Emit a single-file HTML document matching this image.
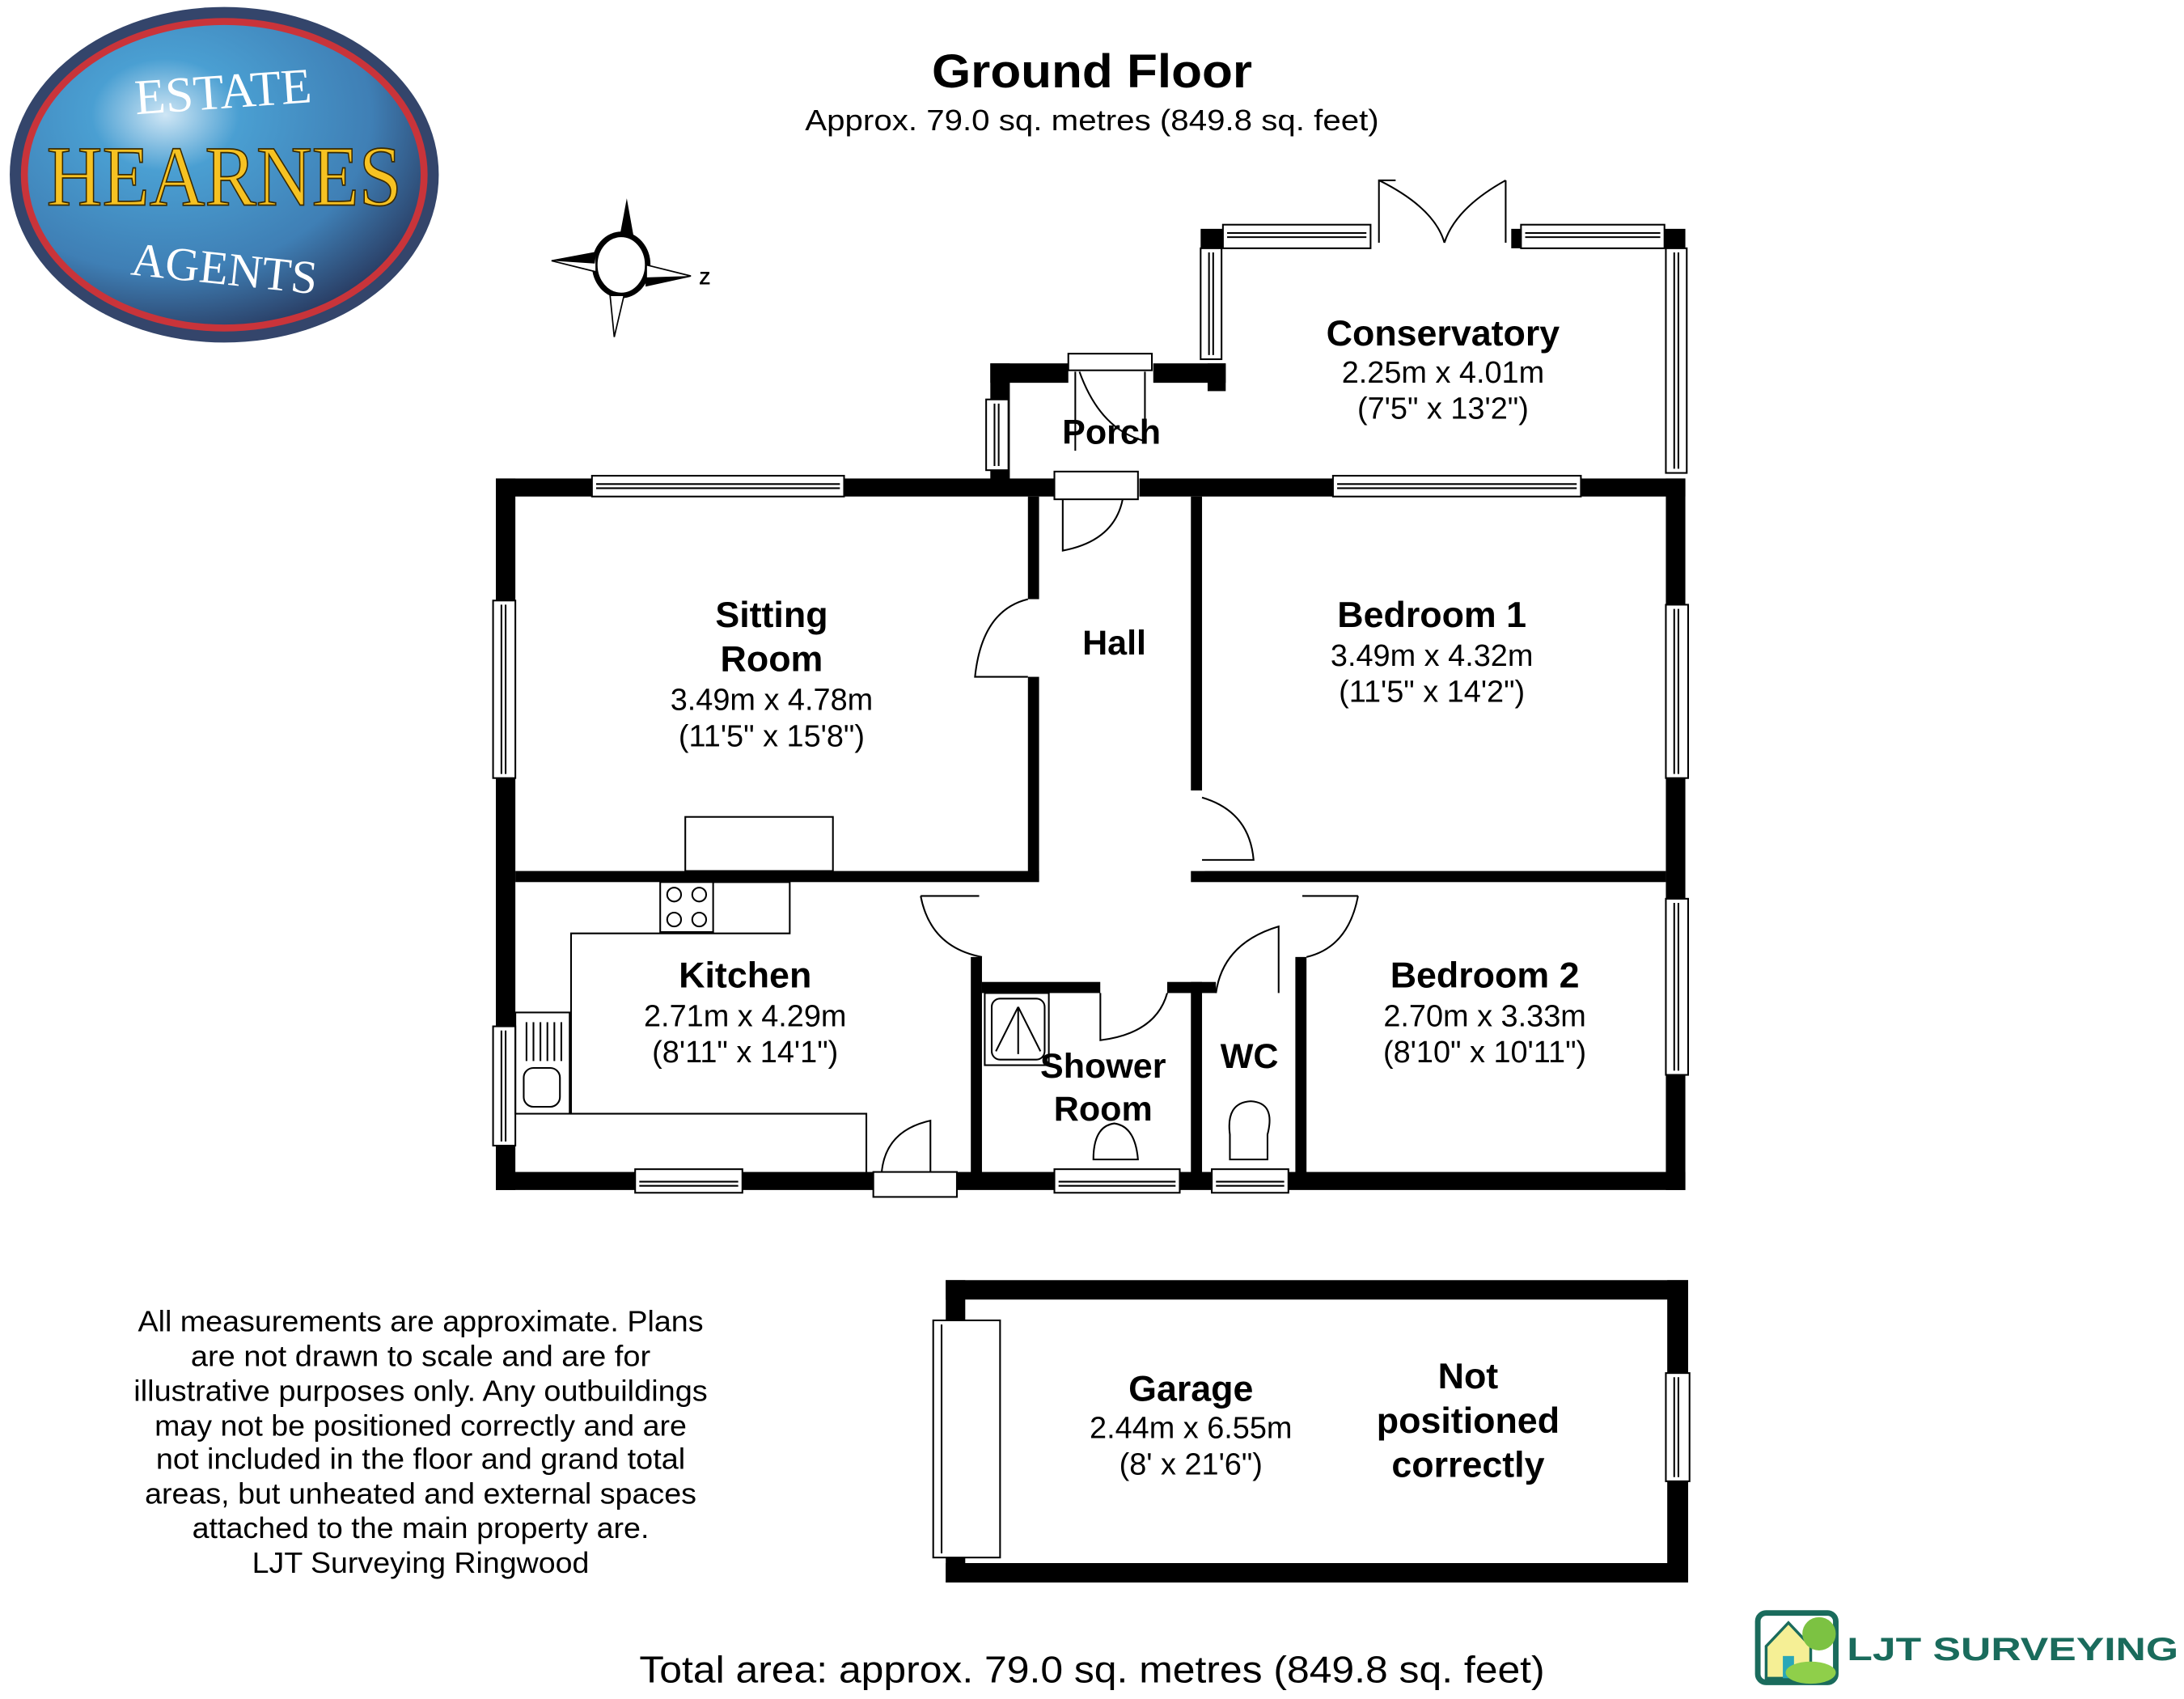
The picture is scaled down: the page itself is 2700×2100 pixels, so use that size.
<!DOCTYPE html>
<html><head><meta charset="utf-8"><style>
html,body{margin:0;padding:0;background:#fff;width:2700px;height:2100px;overflow:hidden}
svg{display:block}
text{font-family:"Liberation Sans Narrow","Liberation Sans",Arial,sans-serif;fill:#000}
.b{font-weight:bold}
.w{fill:#000}
.win{fill:#fff;stroke:#000;stroke-width:1.2}
.ln{fill:none;stroke:#000;stroke-width:1.2}
</style></head><body>
<svg width="2700" height="2100" viewBox="0 0 1568 1225" preserveAspectRatio="none" xmlns="http://www.w3.org/2000/svg">
<defs>
<radialGradient id="bg" cx="35%" cy="30%" r="75%">
<stop offset="0" stop-color="#cfe6f5"/><stop offset="0.25" stop-color="#4a9fd2"/><stop offset="0.7" stop-color="#3f7fb5"/><stop offset="1" stop-color="#2a3f66"/>
</radialGradient>
</defs>
<!-- Logo -->
<ellipse cx="161" cy="126" rx="154" ry="121" fill="#34456b"/>
<ellipse cx="161" cy="126" rx="146" ry="113" fill="#c9343a"/>
<ellipse cx="161" cy="126" rx="141" ry="108" fill="url(#bg)"/>
<text x="161" y="78" text-anchor="middle" style="font-family:'Liberation Serif',serif;font-size:36px;fill:#fff" transform="rotate(-4 161 78)">ESTATE</text>
<text x="161" y="148" text-anchor="middle" style="font-family:'Liberation Serif',serif;font-size:62px;fill:#f6c222;stroke:#3a2a00;stroke-width:1" textLength="255" lengthAdjust="spacingAndGlyphs">HEARNES</text>
<text x="161" y="205" text-anchor="middle" style="font-family:'Liberation Serif',serif;font-size:34px;fill:#fff" transform="rotate(6 161 195)">AGENTS</text>
<!-- compass -->
<ellipse cx="446" cy="191" rx="19" ry="22" fill="#fff" stroke="#000" stroke-width="4"/>
<polygon points="450,143 445,170 455,171" fill="#000"/>
<polygon points="441,243 438,213 448,213" fill="#fff" stroke="#000" stroke-width="1"/>
<polygon points="396,188 428,182 428,196" fill="#fff" stroke="#000" stroke-width="1"/>
<polygon points="396,188 428,182 427,190" fill="#000"/>
<polygon points="496,199 464,191 464,206" fill="#fff" stroke="#000" stroke-width="1"/>
<polygon points="496,199 464,200 464,206" fill="#000"/>
<text x="502" y="205" class="b" style="font-size:13px">Z</text>
<!-- titles -->
<text x="784" y="63" text-anchor="middle" class="b" style="font-family:'Liberation Sans',sans-serif;font-size:34px" textLength="230" lengthAdjust="spacingAndGlyphs">Ground Floor</text>
<text x="784" y="94" text-anchor="middle" style="font-family:'Liberation Sans',sans-serif;font-size:21px" textLength="412" lengthAdjust="spacingAndGlyphs">Approx.  79.0 sq. metres (849.8 sq. feet)</text>

<!-- MAIN WALLS -->
<rect class="w" x="356" y="345" width="854" height="13"/>
<rect class="w" x="356" y="345" width="14" height="513"/>
<rect class="w" x="1196" y="345" width="14" height="513"/>
<rect class="w" x="356" y="845" width="854" height="13"/>
<!-- porch -->
<rect class="w" x="711" y="262" width="169" height="14"/>
<rect class="w" x="711" y="262" width="14" height="90"/>
<rect class="w" x="867" y="262" width="13" height="20"/>
<!-- conservatory stubs -->
<rect class="w" x="862" y="165" width="16" height="14"/>
<rect class="w" x="1194" y="165" width="16" height="14"/>
<rect class="w" x="1085" y="165" width="10" height="14"/>
<!-- interior -->
<rect class="w" x="738" y="358" width="8" height="277"/>
<rect class="w" x="370" y="628" width="376" height="8"/>
<rect class="w" x="855" y="358" width="8" height="212"/>
<rect class="w" x="855" y="628" width="341" height="8"/>
<rect class="w" x="697" y="690" width="8" height="160"/>
<rect class="w" x="705" y="708" width="85" height="8"/>
<rect class="w" x="855" y="708" width="8" height="140"/>
<rect class="w" x="838" y="708" width="35" height="8"/>
<rect class="w" x="930" y="690" width="8" height="160"/>

<!-- door gaps (white) -->
<rect fill="#fff" x="757" y="343" width="61" height="17"/>
<rect fill="#fff" x="767" y="260" width="61" height="18"/>
<rect fill="#fff" x="736" y="432" width="12" height="56"/>
<rect fill="#fff" x="853" y="570" width="12" height="58"/>
<rect fill="#fff" x="790" y="706" width="48" height="12"/>
<rect fill="#fff" x="873" y="706" width="45" height="12"/>
<rect fill="#fff" x="627" y="843" width="60" height="17"/>
<rect fill="#fff" x="990" y="163" width="93" height="18"/>

<!-- windows -->
<g>
<rect class="win" x="425" y="343" width="181" height="15"/><line class="ln" x1="428" y1="349" x2="603" y2="349"/><line class="ln" x1="428" y1="352" x2="603" y2="352"/>
<rect class="win" x="957" y="343" width="178" height="15"/><line class="ln" x1="960" y1="349" x2="1132" y2="349"/><line class="ln" x1="960" y1="352" x2="1132" y2="352"/>
<rect class="win" x="878" y="162" width="106" height="17"/><line class="ln" x1="881" y1="168" x2="981" y2="168"/><line class="ln" x1="881" y1="171" x2="981" y2="171"/>
<rect class="win" x="1092" y="162" width="103" height="17"/><line class="ln" x1="1095" y1="168" x2="1192" y2="168"/><line class="ln" x1="1095" y1="171" x2="1192" y2="171"/>
<rect class="win" x="862" y="179" width="15" height="80"/><line class="ln" x1="868" y1="182" x2="868" y2="256"/><line class="ln" x1="871" y1="182" x2="871" y2="256"/>
<rect class="win" x="1196" y="179" width="15" height="162"/><line class="ln" x1="1202" y1="182" x2="1202" y2="338"/><line class="ln" x1="1205" y1="182" x2="1205" y2="338"/>
<rect class="win" x="708" y="288" width="16" height="51"/><line class="ln" x1="714" y1="291" x2="714" y2="336"/><line class="ln" x1="717" y1="291" x2="717" y2="336"/>
<rect class="win" x="354" y="433" width="16" height="128"/><line class="ln" x1="360" y1="436" x2="360" y2="558"/><line class="ln" x1="363" y1="436" x2="363" y2="558"/>
<rect class="win" x="354" y="740" width="16" height="86"/><line class="ln" x1="360" y1="743" x2="360" y2="823"/><line class="ln" x1="363" y1="743" x2="363" y2="823"/>
<rect class="win" x="1196" y="436" width="16" height="125"/><line class="ln" x1="1202" y1="439" x2="1202" y2="558"/><line class="ln" x1="1205" y1="439" x2="1205" y2="558"/>
<rect class="win" x="1196" y="648" width="16" height="127"/><line class="ln" x1="1202" y1="651" x2="1202" y2="772"/><line class="ln" x1="1205" y1="651" x2="1205" y2="772"/>
<rect class="win" x="456" y="843" width="77" height="17"/><line class="ln" x1="459" y1="852" x2="530" y2="852"/><line class="ln" x1="459" y1="855" x2="530" y2="855"/>
<rect class="win" x="757" y="843" width="90" height="17"/><line class="ln" x1="760" y1="852" x2="844" y2="852"/><line class="ln" x1="760" y1="855" x2="844" y2="855"/>
<rect class="win" x="870" y="843" width="55" height="17"/><line class="ln" x1="873" y1="852" x2="922" y2="852"/><line class="ln" x1="873" y1="855" x2="922" y2="855"/>
</g>

<!-- doors -->
<g class="ln">
<rect x="767" y="255" width="60" height="12"/><path d="M772 268 L772 325 M775 268 Q790 310 822 318 L822 268"/>
<path d="M1002 130 L990 130 L990 175 M990 130 Q1030 150 1037 175 M1081 130 L1081 175 M1081 130 Q1045 150 1037 175"/>
<rect x="757" y="340" width="60" height="20"/><path d="M763 360 L763 397 Q800 390 806 360"/>
<path d="M738 432 Q705 440 700 488 L738 488"/>
<path d="M863 575 Q897 585 900 620 L863 620"/>
<path d="M661 646 Q668 683 705 690 M661 646 L703 646"/>
<path d="M975 646 Q968 683 938 690 M975 646 L935 646"/>
<path d="M790 716 L790 750 Q830 745 838 716"/>
<path d="M873 716 Q878 680 918 668 L918 716"/>
<rect x="627" y="845" width="60" height="18"/><path d="M633 845 Q636 815 668 808 L668 845"/>
</g>
<!-- fixtures -->
<g class="ln">
<rect x="492" y="589" width="106" height="39"/>
<rect x="474" y="636" width="38" height="36"/><circle cx="484" cy="645" r="5"/><circle cx="502" cy="645" r="5"/><circle cx="484" cy="663" r="5"/><circle cx="502" cy="663" r="5"/>
<path d="M512 636 L567 636 L567 673 L410 673 L410 803 L622 803 L622 845"/>
<rect x="370" y="730" width="39" height="73"/>
<line x1="378" y1="737" x2="378" y2="765"/><line x1="383" y1="737" x2="383" y2="765"/><line x1="388" y1="737" x2="388" y2="765"/><line x1="393" y1="737" x2="393" y2="765"/><line x1="398" y1="737" x2="398" y2="765"/><line x1="403" y1="737" x2="403" y2="765"/>
<rect x="376" y="770" width="26" height="28" rx="7"/>
<rect x="707" y="716" width="46" height="52"/><rect x="712" y="720" width="38" height="44" rx="6"/>
<path d="M731 726 L715 758 M731 726 L747 758 M731 726 L731 760"/>
<path d="M785 836 Q785 812 800 810 Q815 812 817 836 Z"/>
<path d="M883 836 L883 818 Q880 795 898 794 Q916 795 910 818 L910 836 Z"/>
</g>

<!-- room labels -->
<g text-anchor="middle">
<text x="1036" y="249" class="b" style="font-size:26px">Conservatory</text>
<text x="1036" y="276" style="font-size:22px">2.25m x 4.01m</text>
<text x="1036" y="302" style="font-size:22px">(7'5" x 13'2")</text>
<text x="798" y="320" class="b" style="font-size:25px">Porch</text>
<text x="554" y="452" class="b" style="font-size:26px">Sitting</text>
<text x="554" y="484" class="b" style="font-size:26px">Room</text>
<text x="554" y="512" style="font-size:22px">3.49m x 4.78m</text>
<text x="554" y="538" style="font-size:22px">(11'5" x 15'8")</text>
<text x="800" y="472" class="b" style="font-size:25px">Hall</text>
<text x="1028" y="452" class="b" style="font-size:26px">Bedroom 1</text>
<text x="1028" y="480" style="font-size:22px">3.49m x 4.32m</text>
<text x="1028" y="506" style="font-size:22px">(11'5" x 14'2")</text>
<text x="535" y="712" class="b" style="font-size:26px">Kitchen</text>
<text x="535" y="740" style="font-size:22px">2.71m x 4.29m</text>
<text x="535" y="766" style="font-size:22px">(8'11" x 14'1")</text>
<text x="792" y="777" class="b" style="font-size:25px">Shower</text>
<text x="792" y="808" class="b" style="font-size:25px">Room</text>
<text x="897" y="770" class="b" style="font-size:25px">WC</text>
<text x="1066" y="712" class="b" style="font-size:26px">Bedroom 2</text>
<text x="1066" y="740" style="font-size:22px">2.70m x 3.33m</text>
<text x="1066" y="766" style="font-size:22px">(8'10" x 10'11")</text>
</g>

<!-- garage -->
<rect class="w" x="679" y="923" width="533" height="14"/>
<rect class="w" x="679" y="1127" width="533" height="14"/>
<rect class="w" x="679" y="923" width="14" height="218"/>
<rect class="w" x="1197" y="923" width="15" height="218"/>
<rect class="win" x="670" y="952" width="48" height="171"/><line class="ln" x1="676" y1="955" x2="676" y2="1120"/>
<rect class="win" x="1196" y="990" width="17" height="78"/><line class="ln" x1="1202" y1="993" x2="1202" y2="1065"/><line class="ln" x1="1205" y1="993" x2="1205" y2="1065"/>
<g text-anchor="middle">
<text x="855" y="1010" class="b" style="font-size:26px">Garage</text>
<text x="855" y="1037" style="font-size:22px">2.44m x 6.55m</text>
<text x="855" y="1063" style="font-size:22px">(8' x 21'6")</text>
<text x="1054" y="1001" class="b" style="font-size:26px">Not</text>
<text x="1054" y="1033" class="b" style="font-size:26px">positioned</text>
<text x="1054" y="1065" class="b" style="font-size:26px">correctly</text>
</g>
<!-- disclaimer -->
<g text-anchor="middle" style="font-family:'Liberation Sans',sans-serif;font-size:21px">
<text x="302" y="960" style="font-family:'Liberation Sans',sans-serif" textLength="406" lengthAdjust="spacingAndGlyphs">All measurements are approximate. Plans</text>
<text x="302" y="985" style="font-family:'Liberation Sans',sans-serif" textLength="330" lengthAdjust="spacingAndGlyphs">are not drawn to scale and are for</text>
<text x="302" y="1010" style="font-family:'Liberation Sans',sans-serif" textLength="412" lengthAdjust="spacingAndGlyphs">illustrative purposes only. Any outbuildings</text>
<text x="302" y="1035" style="font-family:'Liberation Sans',sans-serif" textLength="382" lengthAdjust="spacingAndGlyphs">may not be positioned correctly and are</text>
<text x="302" y="1059" style="font-family:'Liberation Sans',sans-serif" textLength="380" lengthAdjust="spacingAndGlyphs">not included in the floor and grand total</text>
<text x="302" y="1084" style="font-family:'Liberation Sans',sans-serif" textLength="396" lengthAdjust="spacingAndGlyphs">areas, but unheated and external spaces</text>
<text x="302" y="1109" style="font-family:'Liberation Sans',sans-serif" textLength="328" lengthAdjust="spacingAndGlyphs">attached to the main property are.</text>
<text x="302" y="1134" style="font-family:'Liberation Sans',sans-serif" textLength="242" lengthAdjust="spacingAndGlyphs">LJT Surveying Ringwood</text>
</g>
<text x="784" y="1213" text-anchor="middle" style="font-family:'Liberation Sans',sans-serif;font-size:27px" textLength="650" lengthAdjust="spacingAndGlyphs">Total area: approx.  79.0 sq. metres (849.8 sq. feet)</text>
<!-- LJT logo -->
<g>
<rect x="1262" y="1163" width="56" height="50" rx="6" fill="none" stroke="#1a6b5c" stroke-width="4"/>
<polygon points="1268,1187 1284,1170 1300,1187 1300,1210 1268,1210" fill="#f5ef95" stroke="#1a6b5c" stroke-width="2"/>
<rect x="1280" y="1194" width="8" height="16" fill="#2aa7b8"/>
<circle cx="1306" cy="1178" r="12" fill="#7cc242"/>
<ellipse cx="1300" cy="1206" rx="18" ry="8" fill="#8fcf4a"/>
<text x="1326" y="1197" class="b" style="font-family:'Liberation Sans',sans-serif;font-size:23px;fill:#1a6b5c" textLength="238" lengthAdjust="spacingAndGlyphs">LJT SURVEYING</text>
</g>
</svg>
</body></html>
